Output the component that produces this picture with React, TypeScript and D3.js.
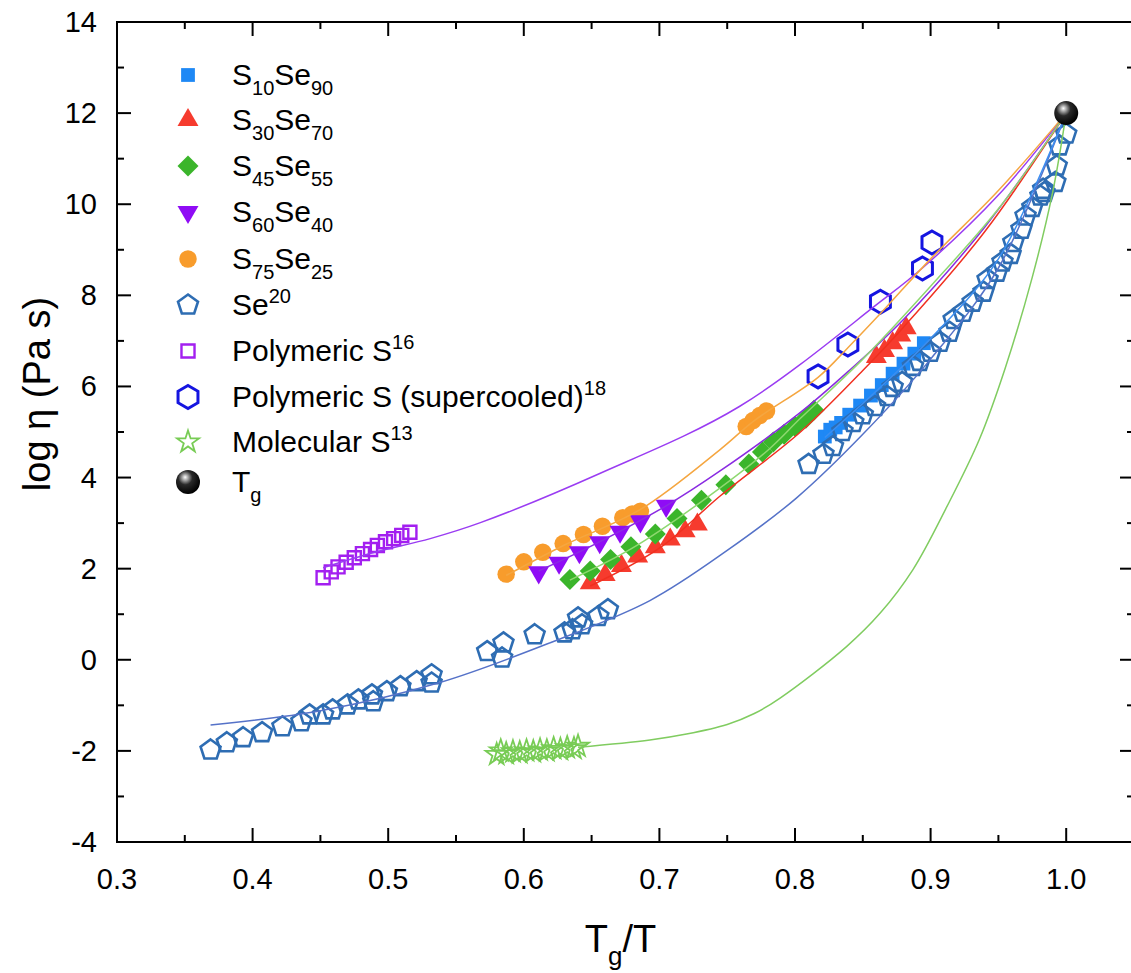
import React from 'react';
import * as d3 from 'd3';

const width = 1131;
const height = 973;
const font = '"Liberation Sans", Arial, sans-serif';

type Pt = [number, number];

const s10se90: Pt[] = [
  [0.822, 4.9], [0.826, 5.05], [0.830, 5.1], [0.834, 5.2], [0.840, 5.38], [0.848, 5.58],
  [0.856, 5.8], [0.864, 6.03], [0.872, 6.28], [0.880, 6.5], [0.888, 6.72], [0.895, 6.95],
];
const s30se70: Pt[] = [
  [0.649, 1.68], [0.660, 1.86], [0.672, 2.06], [0.684, 2.27], [0.697, 2.47], [0.708, 2.64],
  [0.719, 2.82], [0.728, 2.97], [0.860, 6.65], [0.866, 6.78], [0.872, 6.95], [0.878, 7.12], [0.882, 7.28],
];
const s45se55: Pt[] = [
  [0.634, 1.76], [0.649, 1.95], [0.664, 2.2], [0.679, 2.48], [0.697, 2.76], [0.713, 3.1],
  [0.731, 3.5], [0.749, 3.84], [0.766, 4.3], [0.776, 4.56], [0.784, 4.78], [0.792, 4.95],
  [0.800, 5.12], [0.808, 5.3], [0.814, 5.48],
];
const s60se40: Pt[] = [
  [0.611, 1.92], [0.626, 2.13], [0.641, 2.36], [0.656, 2.58], [0.671, 2.81], [0.686, 3.04], [0.705, 3.38],
];
const s75se25: Pt[] = [
  [0.587, 1.88], [0.600, 2.15], [0.614, 2.36], [0.629, 2.55], [0.644, 2.75], [0.658, 2.93],
  [0.673, 3.12], [0.680, 3.2], [0.686, 3.26], [0.764, 5.12], [0.769, 5.25], [0.774, 5.36], [0.779, 5.46],
];
const seData: Pt[] = [
  [0.369, -1.98], [0.381, -1.82], [0.393, -1.71], [0.407, -1.6], [0.422, -1.47], [0.436, -1.36],
  [0.442, -1.21], [0.452, -1.21], [0.459, -1.1], [0.470, -0.99], [0.478, -0.88], [0.488, -0.77],
  [0.489, -0.92], [0.499, -0.7], [0.509, -0.59], [0.521, -0.48], [0.532, -0.33], [0.532, -0.51],
  [0.573, 0.18], [0.585, 0.37], [0.584, 0.04], [0.608, 0.55], [0.630, 0.59], [0.636, 0.66],
  [0.640, 0.92], [0.643, 0.77], [0.655, 0.95], [0.662, 1.1],
  [0.810, 4.29], [0.821, 4.51], [0.828, 4.68], [0.835, 5.01], [0.843, 5.21], [0.850, 5.38],
  [0.859, 5.56], [0.868, 5.78], [0.872, 5.98], [0.879, 6.09], [0.887, 6.44], [0.892, 6.55],
  [0.900, 6.75], [0.907, 6.97], [0.914, 7.19], [0.917, 7.47], [0.924, 7.63], [0.931, 7.85],
  [0.939, 8.07], [0.942, 8.35], [0.949, 8.51], [0.953, 8.73], [0.959, 8.9], [0.961, 9.16],
  [0.967, 9.45], [0.970, 9.74], [0.975, 9.93], [0.981, 10.18], [0.984, 10.26], [0.983, 10.33],
  [0.992, 10.48], [0.993, 10.84], [0.995, 11.28], [1.0, 11.54],
];
const polyS: Pt[] = [
  [0.452, 1.8], [0.458, 1.93], [0.463, 2.04], [0.469, 2.14], [0.475, 2.24], [0.481, 2.33],
  [0.487, 2.42], [0.492, 2.51], [0.498, 2.59], [0.504, 2.66], [0.510, 2.73], [0.516, 2.8],
];
const polySsuper: Pt[] = [
  [0.817, 6.22], [0.839, 6.92], [0.863, 7.86], [0.894, 8.59], [0.901, 9.16],
];
const molS: Pt[] = [
  [0.580, -2.08], [0.583, -2.0], [0.587, -2.06], [0.592, -2.02], [0.597, -2.04], [0.602, -2.0],
  [0.607, -2.02], [0.612, -1.98], [0.617, -2.0], [0.622, -1.95], [0.627, -1.97], [0.632, -1.93],
  [0.637, -1.95], [0.640, -1.9],
];
const tg: Pt[] = [[1.0, 12]];

// fitted curves
const fitS10se90: Pt[] = [[0.822, 4.88], [0.86, 5.9], [0.9, 7.05], [0.95, 8.8], [1.0, 12]];
const fitS30se70: Pt[] = [[0.649, 1.62], [0.7, 2.45], [0.745, 3.6], [0.804, 5.0], [0.85, 6.35], [0.88, 7.3], [0.94, 9.4], [1.0, 12]];
const fitS45se55: Pt[] = [[0.634, 1.75], [0.68, 2.45], [0.73, 3.45], [0.78, 4.6], [0.804, 5.3], [0.85, 6.6], [0.9, 8.2], [0.95, 9.9], [1.0, 12]];
const fitS60se40: Pt[] = [[0.611, 1.95], [0.65, 2.5], [0.705, 3.38], [0.745, 4.15], [0.804, 5.43], [0.84, 6.35], [0.88, 7.47], [0.94, 9.5], [1.0, 12]];
const fitS75se25: Pt[] = [[0.587, 1.85], [0.63, 2.52], [0.686, 3.3], [0.745, 4.62], [0.77, 5.25], [0.817, 6.2], [0.839, 6.85], [0.863, 7.6], [0.9, 8.8], [0.95, 10.3], [1.0, 12]];
const fitSe: Pt[] = [[0.369, -1.43], [0.45, -1.12], [0.538, -0.5], [0.62, 0.38], [0.693, 1.3], [0.75, 2.4], [0.801, 3.55], [0.85, 4.95], [0.9, 6.6], [0.95, 8.6], [1.0, 12]];
const fitPolyS: Pt[] = [[0.452, 2.02], [0.49, 2.36], [0.531, 2.66], [0.568, 3.01], [0.656, 4.09], [0.759, 5.56], [0.863, 7.86], [0.894, 8.6], [0.95, 10.2], [1.0, 12]];
const fitMolS: Pt[] = [[0.64, -1.92], [0.693, -1.76], [0.72, -1.63], [0.75, -1.42], [0.77, -1.18], [0.789, -0.84], [0.838, 0.29], [0.863, 1.03], [0.887, 1.98], [0.912, 3.36], [0.936, 4.84], [0.955, 6.4], [0.975, 8.4], [0.99, 10.26], [1.0, 12]];

const xTicks = [0.3, 0.4, 0.5, 0.6, 0.7, 0.8, 0.9, 1.0];
const yTicks = [-4, -2, 0, 2, 4, 6, 8, 10, 12, 14];

const x = d3.scaleLinear().domain([0.3, 1.05]).range([117, 1134]);
const y = d3.scaleLinear().domain([-4, 14]).range([842, 22]);

const polygon = (n: number, r: number) => {
  const pts = d3.range(n).map(i => {
    const a = -Math.PI / 2 + (i * 2 * Math.PI) / n;
    return [r * Math.cos(a), r * Math.sin(a)];
  });
  return 'M' + pts.map(p => p.join(',')).join('L') + 'Z';
};

type Marker = { path: string; fill: string; stroke: string; sw: number; rot?: number };

const markers: Record<string, Marker> = {
  s10: { path: d3.symbol(d3.symbolSquare, 190)()!, fill: '#1e88f5', stroke: 'none', sw: 0 },
  s30: { path: d3.symbol(d3.symbolTriangle, 190)()!, fill: '#f63b2e', stroke: 'none', sw: 0 },
  s45: { path: d3.symbol(d3.symbolSquare, 220)()!, fill: '#3bb52b', stroke: 'none', sw: 0, rot: 45 },
  s60: { path: d3.symbol(d3.symbolTriangle, 190)()!, fill: '#8f0cf5', stroke: 'none', sw: 0, rot: 180 },
  s75: { path: d3.symbol(d3.symbolCircle, 240)()!, fill: '#f89c2c', stroke: 'none', sw: 0 },
  se: { path: polygon(5, 10.5), fill: 'none', stroke: '#2e6db3', sw: 2.6 },
  poly: { path: d3.symbol(d3.symbolSquare, 170)()!, fill: 'none', stroke: '#a31ff0', sw: 2.4 },
  sup: { path: polygon(6, 11.5), fill: 'none', stroke: '#1515e0', sw: 3 },
  mol: { path: d3.symbol(d3.symbolStar, 150)()!, fill: 'none', stroke: '#78cc55', sw: 1.8 },
};

const series = [
  { data: s10se90, m: 's10' },
  { data: seData, m: 'se' },
  { data: polyS, m: 'poly' },
  { data: polySsuper, m: 'sup' },
  { data: molS, m: 'mol' },
  { data: s75se25, m: 's75' },
  { data: s60se40, m: 's60' },
  { data: s30se70, m: 's30' },
  { data: s45se55, m: 's45' },
];

const fits = [
  { data: fitSe, color: '#5572c8' },
  { data: fitS10se90, color: '#3c8ef0' },
  { data: fitMolS, color: '#80cc60' },
  { data: fitPolyS, color: '#9a3cf2' },
  { data: fitS75se25, color: '#f5a640' },
  { data: fitS60se40, color: '#8a2be2' },
  { data: fitS30se70, color: '#f03020' },
  { data: fitS45se55, color: '#8fd870' },
];

type Part = { t: string; s?: 'sub' | 'sup' };
const legendItems: { m: string; parts: Part[] }[] = [
  { m: 's10', parts: [{ t: 'S' }, { t: '10', s: 'sub' }, { t: 'Se' }, { t: '90', s: 'sub' }] },
  { m: 's30', parts: [{ t: 'S' }, { t: '30', s: 'sub' }, { t: 'Se' }, { t: '70', s: 'sub' }] },
  { m: 's45', parts: [{ t: 'S' }, { t: '45', s: 'sub' }, { t: 'Se' }, { t: '55', s: 'sub' }] },
  { m: 's60', parts: [{ t: 'S' }, { t: '60', s: 'sub' }, { t: 'Se' }, { t: '40', s: 'sub' }] },
  { m: 's75', parts: [{ t: 'S' }, { t: '75', s: 'sub' }, { t: 'Se' }, { t: '25', s: 'sub' }] },
  { m: 'se', parts: [{ t: 'Se' }, { t: '20', s: 'sup' }] },
  { m: 'poly', parts: [{ t: 'Polymeric S' }, { t: '16', s: 'sup' }] },
  { m: 'sup', parts: [{ t: 'Polymeric S (supercooled)' }, { t: '18', s: 'sup' }] },
  { m: 'mol', parts: [{ t: 'Molecular S' }, { t: '13', s: 'sup' }] },
  { m: 'tg', parts: [{ t: 'T' }, { t: 'g', s: 'sub' }] },
];
const legendRows = [75, 120, 166, 212, 259, 305, 351, 397, 442, 482];

const Rich = ({ parts, size, small }: { parts: Part[]; size: number; small: number }) => {
  let shift = 0;
  return (
    <>
      {parts.map((p, i) => {
        const target = p.s === 'sub' ? size * 0.33 : p.s === 'sup' ? -size * 0.4 : 0;
        const dy = target - shift;
        shift = target;
        return (
          <tspan key={i} dy={dy} fontSize={p.s ? small : size}>{p.t}</tspan>
        );
      })}
    </>
  );
};

const Sym = ({ k, cx, cy }: { k: string; cx: number; cy: number }) => {
  if (k === 'tg') return <circle cx={cx} cy={cy} r={12} fill="url(#ball)" />;
  const m = markers[k];
  return (
    <path d={m.path} transform={`translate(${cx},${cy})${m.rot ? ` rotate(${m.rot})` : ''}`}
      fill={m.fill} stroke={m.stroke} strokeWidth={m.sw} />
  );
};

const App = () => {
  const line = d3.line<Pt>().x(d => x(d[0])).y(d => y(d[1])).curve(d3.curveCatmullRom.alpha(0.5));
  const [x0, x1] = x.range();
  const [y0, y1] = y.range();
  const xMinor = d3.range(0.35, 1.06, 0.1);
  const yMinor = d3.range(-3, 14, 2);

  return (
    <svg width={width} height={height} style={{ position: 'absolute', left: 0, top: 0, background: '#fff' }}
      fontFamily={font}>
      <defs>
        <radialGradient id="ball" cx="0.4" cy="0.35" r="0.65" fx="0.38" fy="0.3">
          <stop offset="0" stopColor="#ffffff" />
          <stop offset="0.15" stopColor="#b8b8b8" />
          <stop offset="0.45" stopColor="#2a2a2a" />
          <stop offset="1" stopColor="#000" />
        </radialGradient>
      </defs>

      {/* markers */}
      {series.map((s, i) => (
        <g key={i}>
          {s.data.map((d, j) => <Sym key={j} k={s.m} cx={x(d[0])} cy={y(d[1])} />)}
        </g>
      ))}

      {/* fit curves */}
      {fits.map((f, i) => (
        <path key={i} d={line(f.data)!} fill="none" stroke={f.color} strokeWidth={1.5} />
      ))}

      {tg.map((d, i) => <Sym key={i} k="tg" cx={x(d[0])} cy={y(d[1])} />)}

      {/* frame */}
      <g stroke="#000" strokeWidth={2} fill="none">
        <rect x={x0} y={y1} width={x1 - x0} height={y0 - y1} />
        {xTicks.map(t => (
          <g key={t}>
            <line x1={x(t)} x2={x(t)} y1={y0} y2={y0 - 14} />
            <line x1={x(t)} x2={x(t)} y1={y1} y2={y1 + 14} />
          </g>
        ))}
        {xMinor.map(t => (
          <g key={t}>
            <line x1={x(t)} x2={x(t)} y1={y0} y2={y0 - 7} />
            <line x1={x(t)} x2={x(t)} y1={y1} y2={y1 + 7} />
          </g>
        ))}
        {yTicks.map(t => (
          <g key={t}>
            <line x1={x0} x2={x0 + 14} y1={y(t)} y2={y(t)} />
            <line x1={x1} x2={x1 - 14} y1={y(t)} y2={y(t)} />
          </g>
        ))}
        {yMinor.map(t => (
          <g key={t}>
            <line x1={x0} x2={x0 + 7} y1={y(t)} y2={y(t)} />
            <line x1={x1} x2={x1 - 7} y1={y(t)} y2={y(t)} />
          </g>
        ))}
      </g>

      {/* tick labels */}
      <g fontSize={29} fill="#000">
        {xTicks.map(t => (
          <text key={t} x={x(t)} y={y0 + 47} textAnchor="middle">{t.toFixed(1)}</text>
        ))}
        {yTicks.map(t => (
          <text key={t} x={x0 - 20} y={y(t) + 10} textAnchor="end">{t}</text>
        ))}
      </g>

      {/* axis titles */}
      <text x={(x0 + x1) / 2 - 5} y={952} textAnchor="middle" fontSize={38}>
        <Rich parts={[{ t: 'T' }, { t: 'g', s: 'sub' }, { t: '/T' }]} size={38} small={26} />
      </text>
      <text transform={`translate(50,${(y0 + y1) / 2 - 38}) rotate(-90)`} textAnchor="middle" fontSize={38}>
        log η (Pa s)
      </text>

      {/* legend */}
      {legendItems.map((it, i) => (
        <g key={i}>
          <Sym k={it.m} cx={188} cy={legendRows[i]} />
          <text x={232} y={legendRows[i] + 10} fontSize={30}>
            <Rich parts={it.parts} size={30} small={20} />
          </text>
        </g>
      ))}
    </svg>
  );
};

export default App;
